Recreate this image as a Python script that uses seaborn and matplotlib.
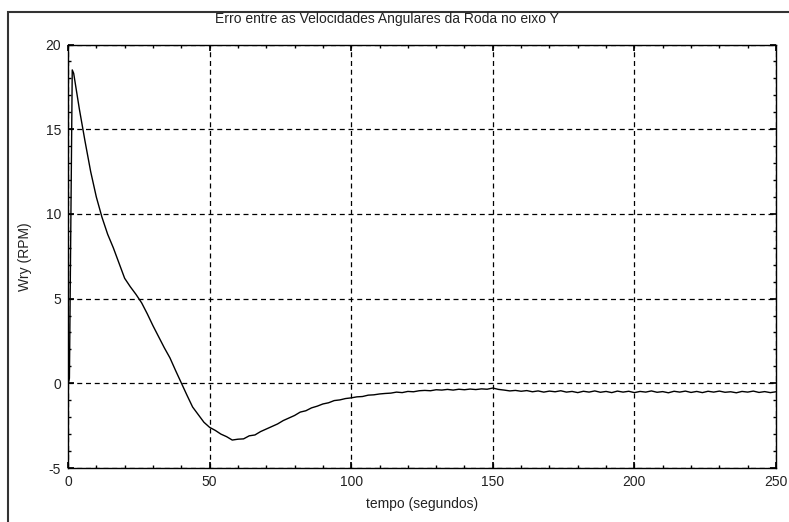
import numpy as np
import pandas as pd
import matplotlib
matplotlib.use("Agg")
import matplotlib.pyplot as plt
import seaborn as sns
from matplotlib.patches import Rectangle
from matplotlib.ticker import MultipleLocator

# Dados (tempo em segundos, erro em RPM)
tempo_inicio = [0.0, 0.5, 1.5]
wry_inicio = [-0.1, 0.3, 18.5]

tempo = list(range(2, 251, 2))
wry = [
    18.3, 16.2, 14.3, 12.5, 11.0, 9.8, 8.8, 8.0, 7.1, 6.2,          # 2-20
    5.7, 5.25, 4.75, 4.1, 3.4, 2.75, 2.1, 1.5, 0.75, 0.02,          # 22-40
    -0.7, -1.4, -1.85, -2.3, -2.6, -2.78, -3.0, -3.15, -3.35, -3.3,  # 42-60
    -3.28, -3.1, -3.05, -2.85, -2.7, -2.55, -2.4, -2.2, -2.05, -1.9,  # 62-80
    -1.7, -1.62, -1.45, -1.35, -1.22, -1.15, -1.02, -0.98, -0.9, -0.86,  # 82-100
    -0.8, -0.78, -0.7, -0.68, -0.63, -0.6, -0.58, -0.52, -0.55, -0.48,  # 102-120
    -0.5, -0.44, -0.42, -0.44, -0.38, -0.4, -0.36, -0.4, -0.35, -0.38,  # 122-140
    -0.34, -0.37, -0.33, -0.35, -0.28, -0.36, -0.4, -0.45, -0.42, -0.47,  # 142-160
    -0.43, -0.5, -0.45, -0.52, -0.46, -0.5, -0.44, -0.52, -0.48, -0.55,  # 162-180
    -0.47, -0.52, -0.45, -0.53, -0.48, -0.55, -0.46, -0.52, -0.47, -0.55,  # 182-200
    -0.48, -0.52, -0.45, -0.53, -0.49, -0.56, -0.47, -0.52, -0.46, -0.54,  # 202-220
    -0.48, -0.55, -0.47, -0.52, -0.46, -0.53, -0.5, -0.56, -0.48, -0.52,  # 222-240
    -0.46, -0.54, -0.49, -0.55, -0.5,                                  # 242-250
]

df = pd.DataFrame({"tempo": tempo_inicio + tempo, "wry": wry_inicio + wry})

sns.set_theme(style="ticks")
plt.rcParams['font.family'] = ['Liberation Sans', 'DejaVu Sans']
plt.rcParams['axes.unicode_minus'] = False

fig = plt.figure(figsize=(7.89, 5.22), dpi=100)
fig.patch.set_facecolor("white")
ax = fig.add_axes([68 / 789, 1 - 468 / 522, (776 - 68) / 789, (468 - 44.5) / 522])

sns.lineplot(data=df, x="tempo", y="wry", ax=ax, color="black", linewidth=1.0,
             estimator=None, sort=False)

ax.set_xlim(0, 250)
ax.set_ylim(-5, 20)
ax.xaxis.set_major_locator(MultipleLocator(50))
ax.xaxis.set_minor_locator(MultipleLocator(10))
ax.yaxis.set_major_locator(MultipleLocator(5))
ax.yaxis.set_minor_locator(MultipleLocator(1))

ax.grid(True, which="major", color="black", linestyle=(0, (4, 3)), linewidth=0.9)
for s in ax.spines.values():
    s.set_visible(True)
    s.set_color("black")
    s.set_linewidth(1.0)

ax.tick_params(which="both", direction="in", top=True, right=True, color="black",
               labelsize=10, labelcolor="#222222")
ax.tick_params(which="major", length=4, pad=5)
ax.tick_params(which="minor", length=2.5)

ax.set_xlabel("tempo (segundos)", fontsize=10, color="#222222", labelpad=6)
ax.set_ylabel("Wry (RPM)", fontsize=10, color="#222222", labelpad=10)

fig.text(0.49, 1 - 19 / 522, "Erro entre as Velocidades Angulares da Roda no eixo Y",
         ha="center", va="center", fontsize=10, color="#222222")

# moldura da figura
fig.patches.append(Rectangle((8 / 789, -0.05), 1.0, 1 - 12 / 522 + 0.05,
                             transform=fig.transFigure, fill=False,
                             edgecolor="#333333", linewidth=1.5))

fig.savefig("out.png", dpi=100)
